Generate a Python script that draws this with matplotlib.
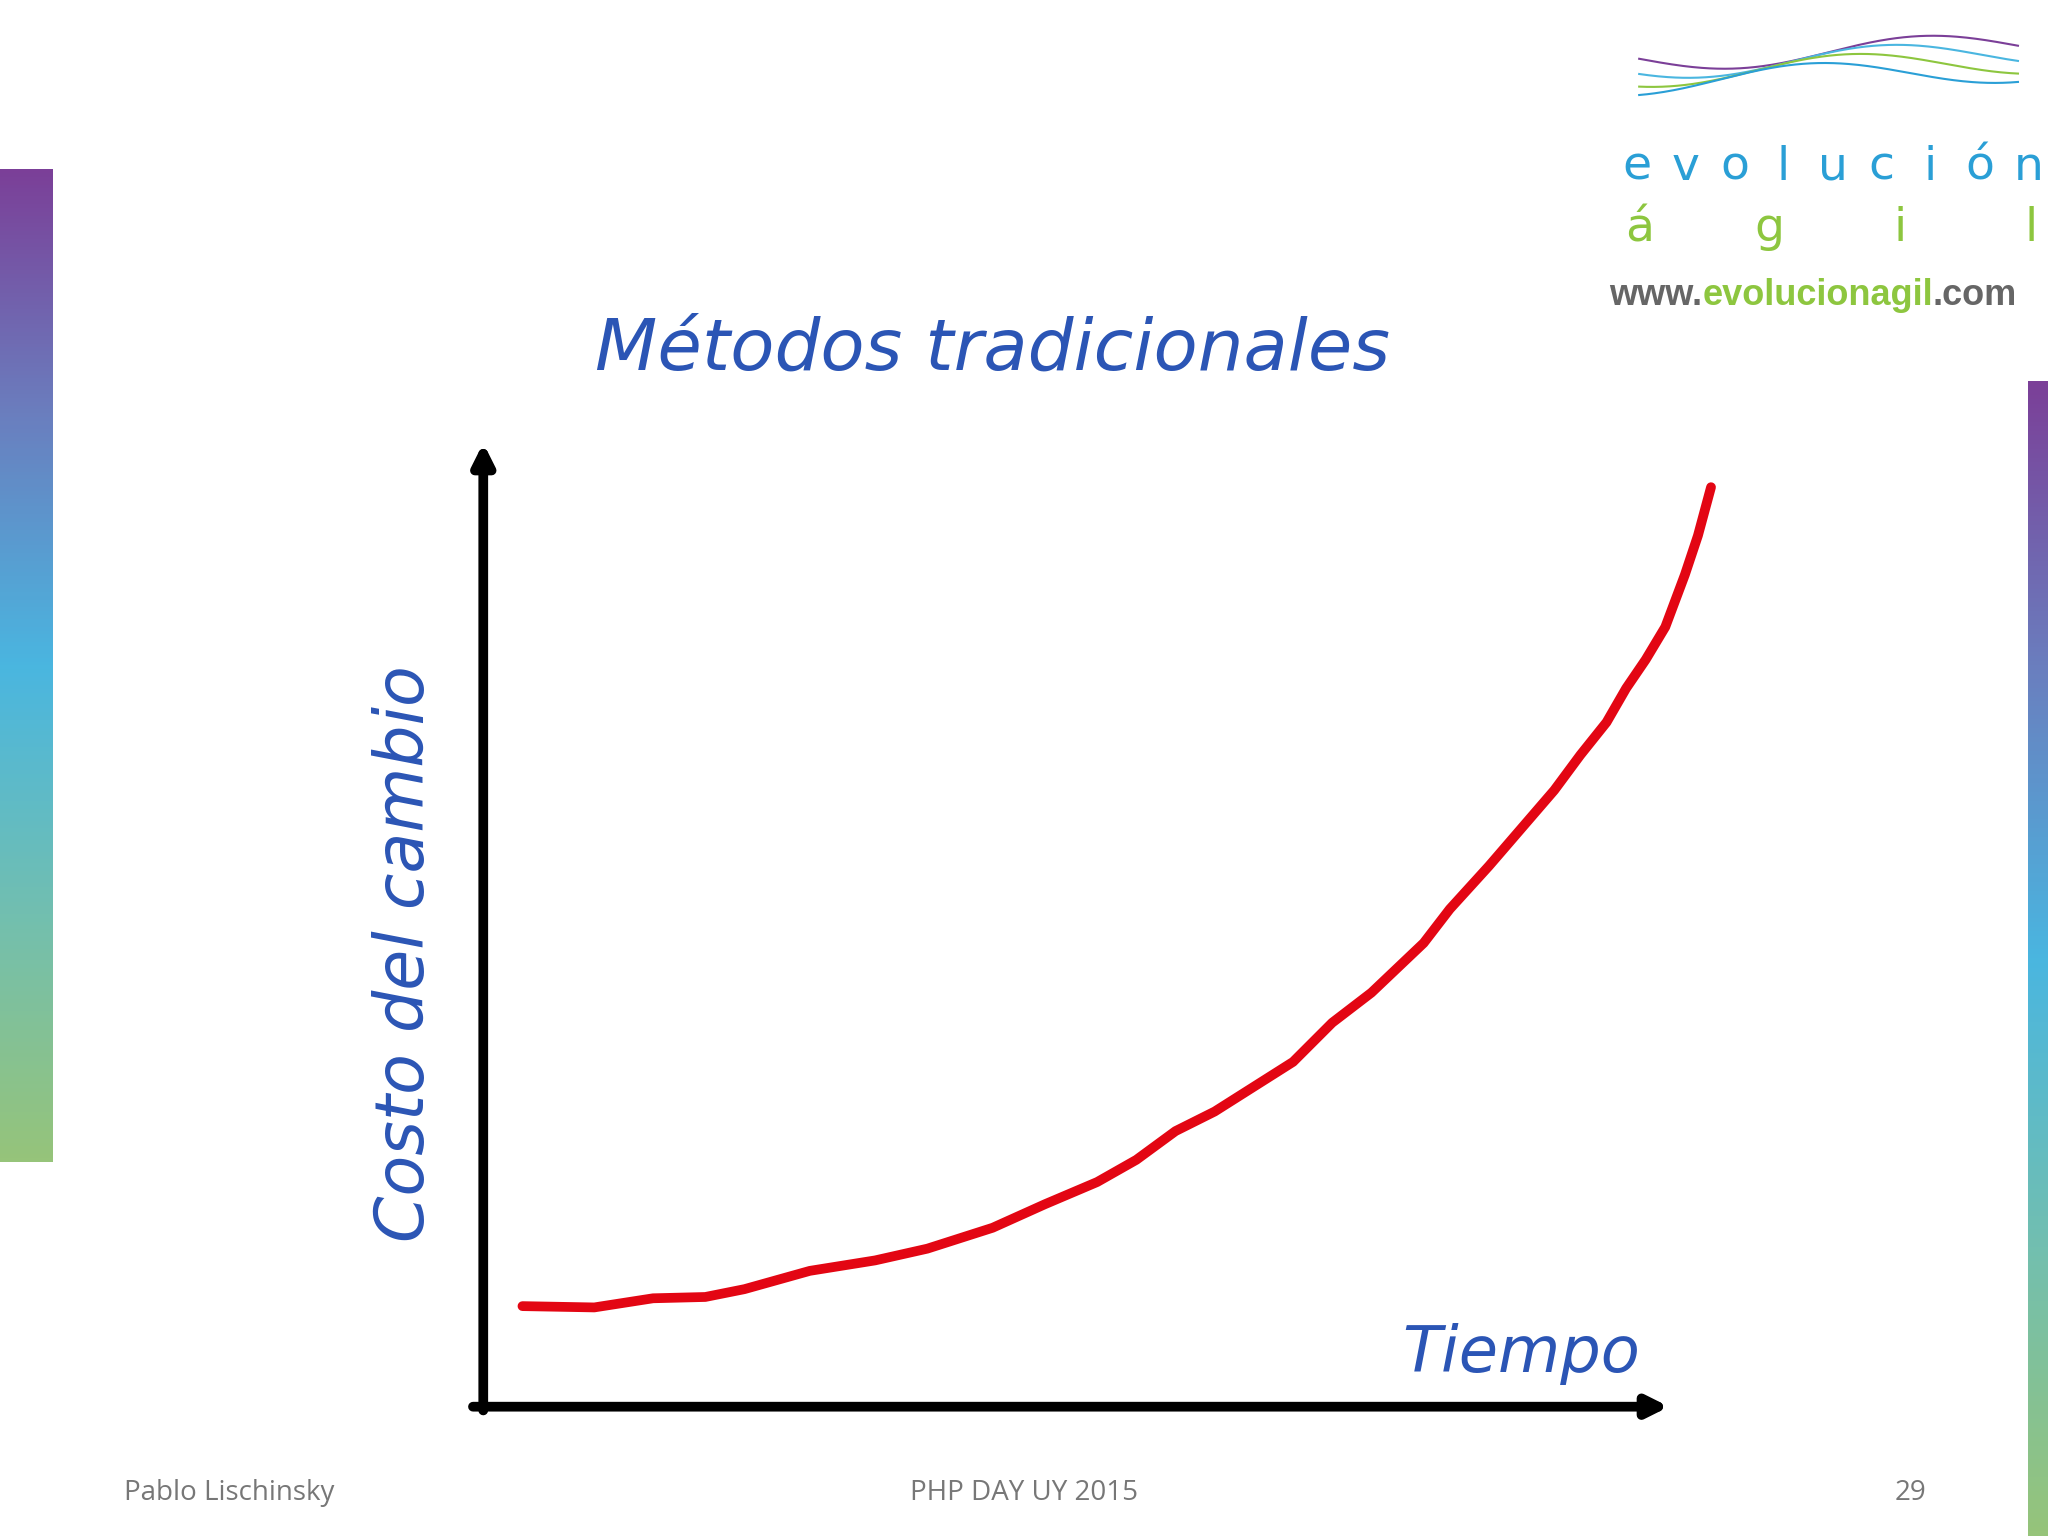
import matplotlib
matplotlib.use("Agg")
import matplotlib.pyplot as plt
import numpy as np
from matplotlib.colors import LinearSegmentedColormap

# data (time, cost) in arbitrary units
tiempo = [30, 85, 130, 170, 200, 250, 300, 340, 390, 430, 470, 500, 530, 560, 590, 620,
          650, 680, 700, 720, 740, 770, 820, 840, 860, 875, 890, 905, 920, 930, 940]
costo = [77, 76, 83, 84, 90, 104, 112, 121, 137, 155, 172, 189, 211, 226, 245, 264,
         294, 317, 336, 355, 381, 414, 472, 499, 524, 550, 572, 597, 637, 667, 704]

title = "Métodos tradicionales"
xlabel = "Tiempo"
ylabel = "Costo del cambio"

W, H = 1568, 1176
fig = plt.figure(figsize=(20.48, 15.36), dpi=100)
bg = fig.add_axes([0, 0, 1, 1])
bg.set_xlim(0, W); bg.set_ylim(H, 0); bg.axis("off")

cmap = LinearSegmentedColormap.from_list("g", ["#7b3f98", "#6a7fbf", "#4ab6e0", "#72bfb0", "#96c47a"])
grad = np.linspace(0, 1, 256).reshape(-1, 1)
bg.imshow(grad, cmap=cmap, extent=[0, 40, 890, 130], aspect="auto")
bg.imshow(grad, cmap=cmap, extent=[1553, 1568, 1176, 292], aspect="auto")
bg.set_xlim(0, W); bg.set_ylim(H, 0)

# logo
t = np.linspace(0, 1, 200)
for i, c in enumerate(["#7b3f98", "#4ab6e0", "#8dc63f", "#2a9fd6"]):
    bg.plot(1255 + 290 * t, 45 + 10 * np.sin(2 * np.pi * t + i * 0.6) + 6 * i - 10 * t, color=c, lw=1.5)
for k, ch in enumerate("evolución"):
    bg.text(1253 + k * 37.5, 128, ch, color="#2a9fd6", fontsize=34, ha="center", va="center", family="DejaVu Sans")
for k, ch in enumerate("ágil"):
    bg.text(1255 + k * 100, 175, ch, color="#8dc63f", fontsize=34, ha="center", va="center", family="DejaVu Sans")
url = dict(fontsize=26, weight="bold", family="Liberation Sans", va="center")
t1 = bg.text(1232, 226, "www.", color="#666666", **url)
t2 = bg.annotate("evolucionagil", xy=(1, 0.5), xycoords=t1, color="#8dc63f", ha="left", **url)
bg.annotate(".com", xy=(1, 0.5), xycoords=t2, color="#666666", ha="left", **url)

# footer
bg.text(95, 1143, "Pablo Lischinsky", color="#777777", fontsize=20, va="center", family="Open Sans")
bg.text(784, 1143, "PHP DAY UY 2015", color="#777777", fontsize=20, va="center", ha="center", family="Open Sans")
bg.text(1475, 1143, "29", color="#777777", fontsize=20, va="center", ha="right", family="Open Sans")

# chart
ax = fig.add_axes([370 / W, 1 - 1077 / H, (1280 - 370) / W, (1077 - 340) / H])
ax.set_xlim(0, 910); ax.set_ylim(0, 737)
ax.patch.set_alpha(0)
for s in ax.spines.values():
    s.set_visible(False)
ax.set_xticks([]); ax.set_yticks([])
ax.annotate("", xy=(910, 0), xytext=(-10, 0), arrowprops=dict(arrowstyle="-|>", lw=7, color="black", mutation_scale=30), annotation_clip=False)
ax.annotate("", xy=(0, 740), xytext=(0, -5), arrowprops=dict(arrowstyle="-|>", lw=7, color="black", mutation_scale=30), annotation_clip=False)
ax.plot(tiempo, costo, color="#e30613", lw=7, solid_capstyle="round", clip_on=False)

hand = dict(color="#2b55b5", style="italic", family="DejaVu Sans")
bg.text(760, 268, title, fontsize=52, ha="center", va="center", **hand)
bg.text(1165, 1037, xlabel, fontsize=46, ha="center", va="center", **hand)
bg.text(310, 730, ylabel, fontsize=48, ha="center", va="center", rotation=90, **hand)

fig.savefig("out.png", dpi=100, facecolor="white")
